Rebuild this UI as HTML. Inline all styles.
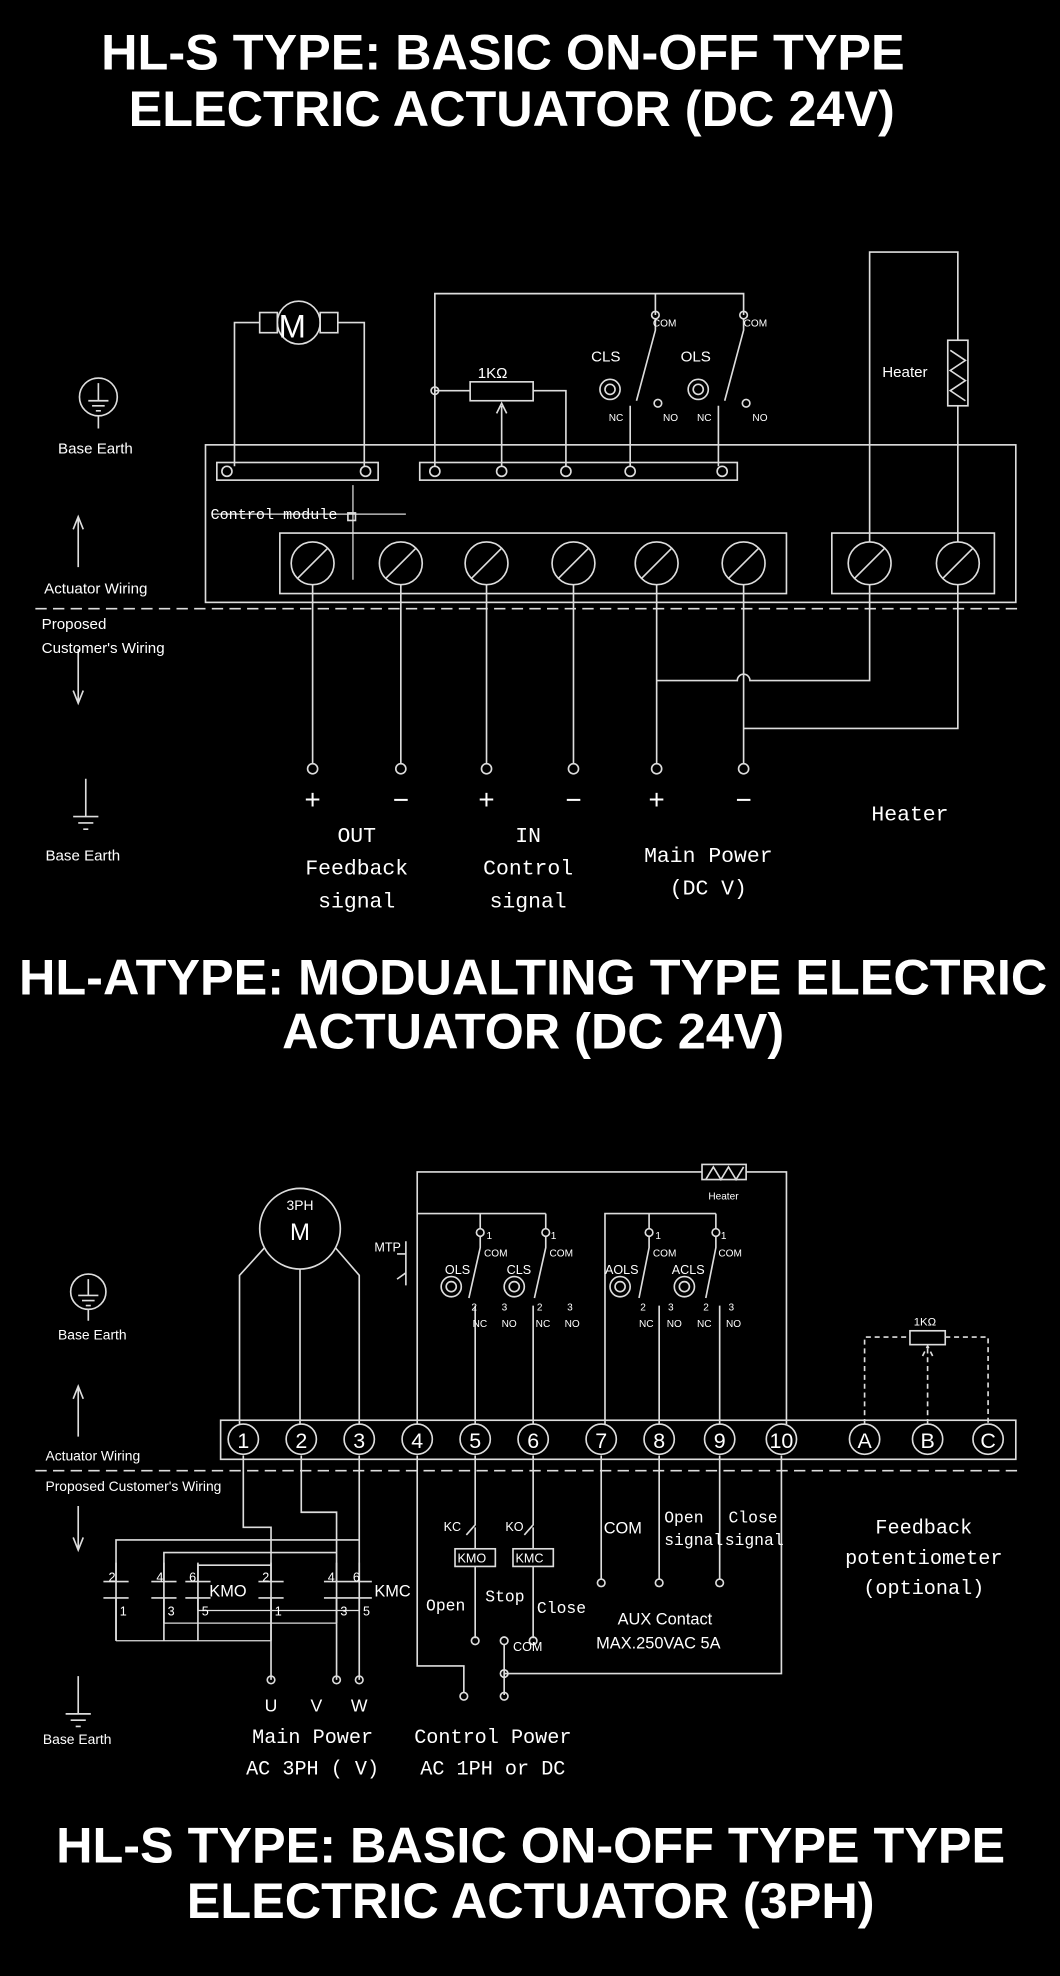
<!DOCTYPE html>
<html><head><meta charset="utf-8"><style>
html,body{margin:0;padding:0;background:#000;}
svg{display:block}
text{fill:#fff;font-family:"Liberation Sans",sans-serif}
.t{font-weight:bold;font-size:40px;text-anchor:middle}
.m{font-family:"Liberation Mono","DejaVu Sans Mono",monospace}
</style></head><body>
<svg width="1060" height="1976" viewBox="0 0 841 1568" xmlns="http://www.w3.org/2000/svg">
<rect width="841" height="1568" fill="#000"/>
<g stroke="#ddd" stroke-width="1.3" fill="none">
<rect x="163" y="353" width="643" height="125"/>
<rect x="172" y="367" width="128" height="14"/>
<rect x="333" y="367" width="252" height="14"/>
<circle cx="180" cy="374" r="4"/><circle cx="290" cy="374" r="4"/>
<circle cx="345" cy="374" r="4"/><circle cx="398" cy="374" r="4"/><circle cx="449" cy="374" r="4"/><circle cx="500" cy="374" r="4"/><circle cx="573" cy="374" r="4"/>
<circle cx="237" cy="256" r="17"/>
<rect x="206" y="248" width="14" height="16"/><rect x="254" y="248" width="14" height="16"/>
<path d="M206 256 H186 V370 M268 256 H289 V370"/>
<path d="M345 370 V233 H520 V250 M520 233 H590 V250"/>
<rect x="373" y="303" width="50" height="15"/>
<path d="M345 310 H373 M423 310 H449 V370 M398 370 V322 M394 328 L398 320 L402 328"/>
<circle cx="345" cy="310" r="3"/>
<circle cx="520" cy="250" r="3"/><circle cx="590" cy="250" r="3"/>
<path d="M520 253 V262 L505 318 M500 370 V322 M570 370 V322 M590 253 V262 L575 318"/>
<circle cx="484" cy="309" r="8"/><circle cx="484" cy="309" r="4"/>
<circle cx="554" cy="309" r="8"/><circle cx="554" cy="309" r="4"/>
<circle cx="522" cy="320" r="3"/><circle cx="592" cy="320" r="3"/>
<path d="M690 430 V200 H760 V270 M760 322 V430"/>
<rect x="752" y="270" width="16" height="52"/>
<path d="M754 278 L766 286 L754 294 L766 302 L754 310 L766 318"/>
<rect x="222" y="423" width="402" height="48"/>
<rect x="660" y="423" width="129" height="48"/>
<g>
<circle cx="248" cy="447" r="17"/><path d="M236 459 L260 435"/>
<circle cx="318" cy="447" r="17"/><path d="M306 459 L330 435"/>
<circle cx="386" cy="447" r="17"/><path d="M374 459 L398 435"/>
<circle cx="455" cy="447" r="17"/><path d="M443 459 L467 435"/>
<circle cx="521" cy="447" r="17"/><path d="M509 459 L533 435"/>
<circle cx="590" cy="447" r="17"/><path d="M578 459 L602 435"/>
<circle cx="690" cy="447" r="17"/><path d="M678 459 L702 435"/>
<circle cx="760" cy="447" r="17"/><path d="M748 459 L772 435"/>
</g>
<path d="M280 385 V460 M276 408 H322 M168 408 H278" stroke-width="1"/>
<rect x="276" y="407" width="6" height="6"/>
<path d="M248 464 V606 M318 464 V606 M386 464 V606 M455 464 V606 M521 464 V606 M590 464 V606"/>
<circle cx="248" cy="610" r="4"/><circle cx="318" cy="610" r="4"/><circle cx="386" cy="610" r="4"/><circle cx="455" cy="610" r="4"/><circle cx="521" cy="610" r="4"/><circle cx="590" cy="610" r="4"/>
<path d="M521 540 H585 A5 5 0 0 1 595 540 H690 V464 M590 578 H760 V464"/>
<path d="M28 483 H810" stroke-dasharray="9 5"/>
<circle cx="78" cy="315" r="15"/><path d="M78 304 V318 M70 318 H86 M73 322 H83 M76 326 H80 M78 330 V340"/>
<path d="M62 410 V450 M58 420 L62 410 L66 420 M62 515 V558 M58 548 L62 558 L66 548"/>
<path d="M68 618 V648 M58 648 H78 M62 653 H74 M66 658 H70"/>
<rect x="175" y="1127" width="631" height="31"/>
<path d="M28 1167 H810" stroke-dasharray="9 5"/>
<g>
<circle cx="193" cy="1142" r="12"/><circle cx="239" cy="1142" r="12"/><circle cx="285" cy="1142" r="12"/><circle cx="331" cy="1142" r="12"/><circle cx="377" cy="1142" r="12"/><circle cx="423" cy="1142" r="12"/><circle cx="477" cy="1142" r="12"/><circle cx="523" cy="1142" r="12"/><circle cx="571" cy="1142" r="12"/><circle cx="620" cy="1142" r="12"/><circle cx="686" cy="1142" r="12"/><circle cx="736" cy="1142" r="12"/><circle cx="784" cy="1142" r="12"/>
</g>
<circle cx="238" cy="975" r="32"/>
<path d="M210 990 L190 1012 V1130 M238 1007 V1130 M266 990 L285 1012 V1130"/>
<path d="M331 1130 V930 H557 M592 930 H624 V1130"/>
<rect x="557" y="924" width="35" height="12"/>
<path d="M560 936 L566 926 L572 936 L578 926 L584 936 L590 926"/>
<path d="M331 963 H433 M381 963 V975 M433 963 V975 M315 995 L322 995 L322 1010 L315 1015 M322 985 V1020"/>
<circle cx="381" cy="978" r="3"/><circle cx="433" cy="978" r="3"/>
<path d="M381 981 V990 L372 1030 M377 1130 V1036 M433 981 V990 L424 1030 M423 1130 V1036"/>
<circle cx="358" cy="1021" r="8"/><circle cx="358" cy="1021" r="4"/>
<circle cx="408" cy="1021" r="8"/><circle cx="408" cy="1021" r="4"/>
<path d="M480 1130 V963 H568 M515 963 V975 M568 963 V975"/>
<circle cx="515" cy="978" r="3"/><circle cx="568" cy="978" r="3"/>
<path d="M515 981 V990 L507 1030 M523 1130 V1036 M568 981 V990 L560 1030 M571 1130 V1036"/>
<circle cx="492" cy="1021" r="8"/><circle cx="492" cy="1021" r="4"/>
<circle cx="543" cy="1021" r="8"/><circle cx="543" cy="1021" r="4"/>
<rect x="722" y="1056" width="28" height="11"/>
<path d="M686 1130 V1061 H722 M750 1061 H784 V1130 M736 1130 V1070 M732 1076 L736 1068 L740 1076" stroke-dasharray="4 3"/>
<path d="M193 1155 V1212 H215 V1333 M239 1155 V1200 H267 V1333 M285 1155 V1227 V1333"/>
<circle cx="215" cy="1333" r="3"/><circle cx="267" cy="1333" r="3"/><circle cx="285" cy="1333" r="3"/>
<path d="M92 1302 V1222 H285 M130 1302 V1232 H267 M157 1302 V1242 H215"/>
<path d="M92 1302 H215 M130 1288 H267 M157 1278 H285" stroke-width="1"/>
<path d="M92 1255 V1240 M130 1255 V1240 M157 1255 V1240 M215 1255 V1240 M267 1255 V1240 M285 1255 V1240"/>
<path d="M82 1255 H102 M120 1255 H140 M147 1255 H167 M205 1255 H225 M257 1255 H277 M275 1255 H295"/>
<path d="M82 1268 H102 M120 1268 H140 M147 1268 H167 M205 1268 H225 M257 1268 H277 M275 1268 H295"/>
<path d="M92 1268 V1302 M130 1268 V1288 M157 1268 V1278 M215 1268 V1302 M267 1268 V1288 M285 1268 V1278"/>
<path d="M331 1155 V1322 H368 V1343 M377 1155 V1210 L370 1218 M377 1212 V1229 M423 1155 V1210 L416 1218 M423 1212 V1229 M377 1243 V1300 M423 1243 V1300 M400 1305 V1345 M400 1328 H620 V1155"/>
<rect x="361" y="1229" width="32" height="14"/><rect x="407" y="1229" width="32" height="14"/>
<circle cx="377" cy="1302" r="3"/><circle cx="400" cy="1302" r="3"/><circle cx="423" cy="1302" r="3"/><circle cx="368" cy="1346" r="3"/><circle cx="400" cy="1346" r="3"/><circle cx="400" cy="1328" r="3"/>
<path d="M477 1155 V1253 M523 1155 V1253 M571 1155 V1253"/>
<circle cx="477" cy="1256" r="3"/><circle cx="523" cy="1256" r="3"/><circle cx="571" cy="1256" r="3"/>
<circle cx="70" cy="1025" r="14"/><path d="M70 1015 V1028 M62 1028 H78 M65 1032 H75 M68 1036 H72 M70 1039 V1048"/>
<path d="M62 1100 V1140 M58 1110 L62 1100 L66 1110 M62 1195 V1230 M58 1220 L62 1230 L66 1220"/>
<path d="M62 1330 V1360 M52 1360 H72 M56 1365 H68 M60 1370 H64"/>
</g>
<text class="t" x="399" y="55">HL-S TYPE: BASIC ON-OFF TYPE</text>
<text class="t" x="406" y="100">ELECTRIC ACTUATOR (DC 24V)</text>
<text class="t" x="423" y="789">HL-ATYPE: MODUALTING TYPE ELECTRIC</text>
<text class="t" x="423" y="832">ACTUATOR (DC 24V)</text>
<text class="t" x="421" y="1478">HL-S TYPE: BASIC ON-OFF TYPE TYPE</text>
<text class="t" x="421" y="1522">ELECTRIC ACTUATOR (3PH)</text>
<text x="221" y="268" font-size="26">M</text>
<text x="379" y="300" font-size="12">1KΩ</text>
<text x="469" y="287" font-size="12">CLS</text>
<text x="540" y="287" font-size="12">OLS</text>
<text x="518" y="259" font-size="8">COM</text><text x="590" y="259" font-size="8">COM</text>
<text x="483" y="334" font-size="8">NC</text><text x="526" y="334" font-size="8">NO</text>
<text x="553" y="334" font-size="8">NC</text><text x="597" y="334" font-size="8">NO</text>
<text x="700" y="299" font-size="12">Heater</text>
<text class="m" x="167" y="412" font-size="12">Control module</text>
<text x="46" y="360" font-size="12">Base Earth</text>
<text x="35" y="471" font-size="12">Actuator Wiring</text>
<text x="33" y="499" font-size="12">Proposed</text>
<text x="33" y="518" font-size="12">Customer's Wiring</text>
<text x="36" y="683" font-size="12">Base Earth</text>
<g font-size="22" text-anchor="middle">
<text x="248" y="642">+</text><text x="318" y="642">−</text><text x="386" y="642">+</text><text x="455" y="642">−</text><text x="521" y="642">+</text><text x="590" y="642">−</text>
</g>
<g class="m" font-size="17" text-anchor="middle">
<text class="m" x="283" y="668">OUT</text><text class="m" x="283" y="694">Feedback</text><text class="m" x="283" y="720">signal</text>
<text class="m" x="419" y="668">IN</text><text class="m" x="419" y="694">Control</text><text class="m" x="419" y="720">signal</text>
<text class="m" x="562" y="684">Main Power</text><text class="m" x="562" y="710">(DC  V)</text>
<text class="m" x="722" y="651">Heater</text>
</g>
<g font-size="17" text-anchor="middle">
<text x="193" y="1149">1</text><text x="239" y="1149">2</text><text x="285" y="1149">3</text><text x="331" y="1149">4</text><text x="377" y="1149">5</text><text x="423" y="1149">6</text><text x="477" y="1149">7</text><text x="523" y="1149">8</text><text x="571" y="1149">9</text><text x="620" y="1149">10</text><text x="686" y="1149">A</text><text x="736" y="1149">B</text><text x="784" y="1149">C</text>
</g>
<text x="238" y="960" font-size="11" text-anchor="middle">3PH</text>
<text x="238" y="984" font-size="19" text-anchor="middle">M</text>
<text x="562" y="952" font-size="8">Heater</text>
<text x="297" y="993" font-size="10">MTP</text>
<text x="353" y="1011" font-size="10">OLS</text><text x="402" y="1011" font-size="10">CLS</text>
<text x="480" y="1011" font-size="10">AOLS</text><text x="533" y="1011" font-size="10">ACLS</text>
<g font-size="8">
<text x="386" y="983">1</text><text x="384" y="997">COM</text><text x="437" y="983">1</text><text x="436" y="997">COM</text>
<text x="520" y="983">1</text><text x="518" y="997">COM</text><text x="572" y="983">1</text><text x="570" y="997">COM</text>
<text x="375" y="1053">NC</text><text x="398" y="1053">NO</text><text x="425" y="1053">NC</text><text x="448" y="1053">NO</text>
<text x="507" y="1053">NC</text><text x="529" y="1053">NO</text><text x="553" y="1053">NC</text><text x="576" y="1053">NO</text>
<text x="374" y="1040">2</text><text x="398" y="1040">3</text><text x="426" y="1040">2</text><text x="450" y="1040">3</text>
<text x="508" y="1040">2</text><text x="530" y="1040">3</text><text x="558" y="1040">2</text><text x="578" y="1040">3</text>
</g>
<text x="725" y="1052" font-size="9">1KΩ</text>
<text x="46" y="1063" font-size="11">Base Earth</text>
<text x="36" y="1159" font-size="11">Actuator Wiring</text>
<text x="36" y="1183" font-size="11">Proposed Customer's Wiring</text>
<text x="34" y="1384" font-size="11">Base Earth</text>
<g font-size="10">
<text x="86" y="1255">2</text><text x="124" y="1255">4</text><text x="150" y="1255">6</text><text x="208" y="1255">2</text><text x="260" y="1255">4</text><text x="280" y="1255">6</text>
<text x="95" y="1282">1</text><text x="133" y="1282">3</text><text x="160" y="1282">5</text><text x="218" y="1282">1</text><text x="270" y="1282">3</text><text x="288" y="1282">5</text>
</g>
<text x="166" y="1267" font-size="13">KMO</text>
<text x="297" y="1267" font-size="13">KMC</text>
<text x="352" y="1215" font-size="10">KC</text><text x="401" y="1215" font-size="10">KO</text>
<text x="363" y="1240" font-size="10">KMO</text><text x="409" y="1240" font-size="10">KMC</text>
<text class="m" x="338" y="1278" font-size="13">Open</text>
<text class="m" x="385" y="1271" font-size="13">Stop</text>
<text class="m" x="426" y="1280" font-size="13">Close</text>
<text x="407" y="1310" font-size="10">COM</text>
<text x="479" y="1217" font-size="13">COM</text>
<text class="m" x="527" y="1208" font-size="13">Open</text><text class="m" x="527" y="1226" font-size="13">signal</text>
<text class="m" x="578" y="1208" font-size="13">Close</text><text class="m" x="575" y="1226" font-size="13">signal</text>
<text x="490" y="1289" font-size="13">AUX Contact</text>
<text x="473" y="1308" font-size="13">MAX.250VAC  5A</text>
<text class="m" x="733" y="1217" font-size="16" text-anchor="middle">Feedback</text>
<text class="m" x="733" y="1241" font-size="16" text-anchor="middle">potentiometer</text>
<text class="m" x="733" y="1265" font-size="16" text-anchor="middle">(optional)</text>
<g font-size="14" text-anchor="middle"><text x="215" y="1358">U</text><text x="251" y="1358">V</text><text x="285" y="1358">W</text></g>
<text class="m" x="248" y="1383" font-size="16" text-anchor="middle">Main Power</text>
<text class="m" x="248" y="1408" font-size="16" text-anchor="middle">AC 3PH (  V)</text>
<text class="m" x="391" y="1383" font-size="16" text-anchor="middle">Control Power</text>
<text class="m" x="391" y="1408" font-size="16" text-anchor="middle">AC 1PH or DC</text>
</svg>
</body></html>
